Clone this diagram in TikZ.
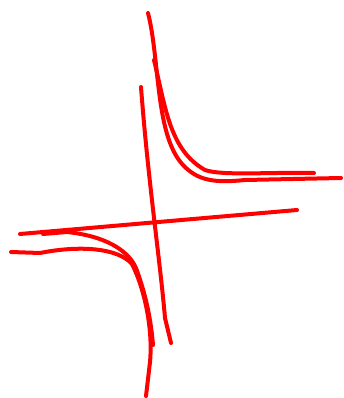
\documentclass[tikz,border=0pt]{standalone}
\usepackage{tikz}
\usepackage{xcolor}
\definecolor{sketchred}{RGB}{255,0,0}

\begin{document}
\begin{tikzpicture}[x=0.75pt, y=-0.75pt, line width=3pt, line cap=round, line join=round]
    \useasboundingbox (0,0) rectangle (343,398);
    % axes
    \draw[sketchred] (141,87) .. controls (148,180) and (160,260) .. (165,318) -- (171,343);
    \draw[sketchred] (20,234) -- (297,210);
    % upper right branch
    \draw[sketchred] (148,13) .. controls (160,60) and (155,135) .. (183,165) .. controls (198,181) and (215,183) .. (245,180) -- (341,178);
    \draw[sketchred] (154,60) .. controls (166,110) and (170,150) .. (205,170) .. controls (222,176) and (270,172) .. (314,173);
    % lower left branch
    \draw[sketchred] (43,234) -- (67,232) .. controls (105,236) and (128,250) .. (136,268) .. controls (146,295) and (151,320) .. (153,345);
    \draw[sketchred] (11,252) -- (40,253) .. controls (80,245) and (118,248) .. (132,264) .. controls (145,290) and (153,330) .. (150,362) -- (146,396);
\end{tikzpicture}
\end{document}
